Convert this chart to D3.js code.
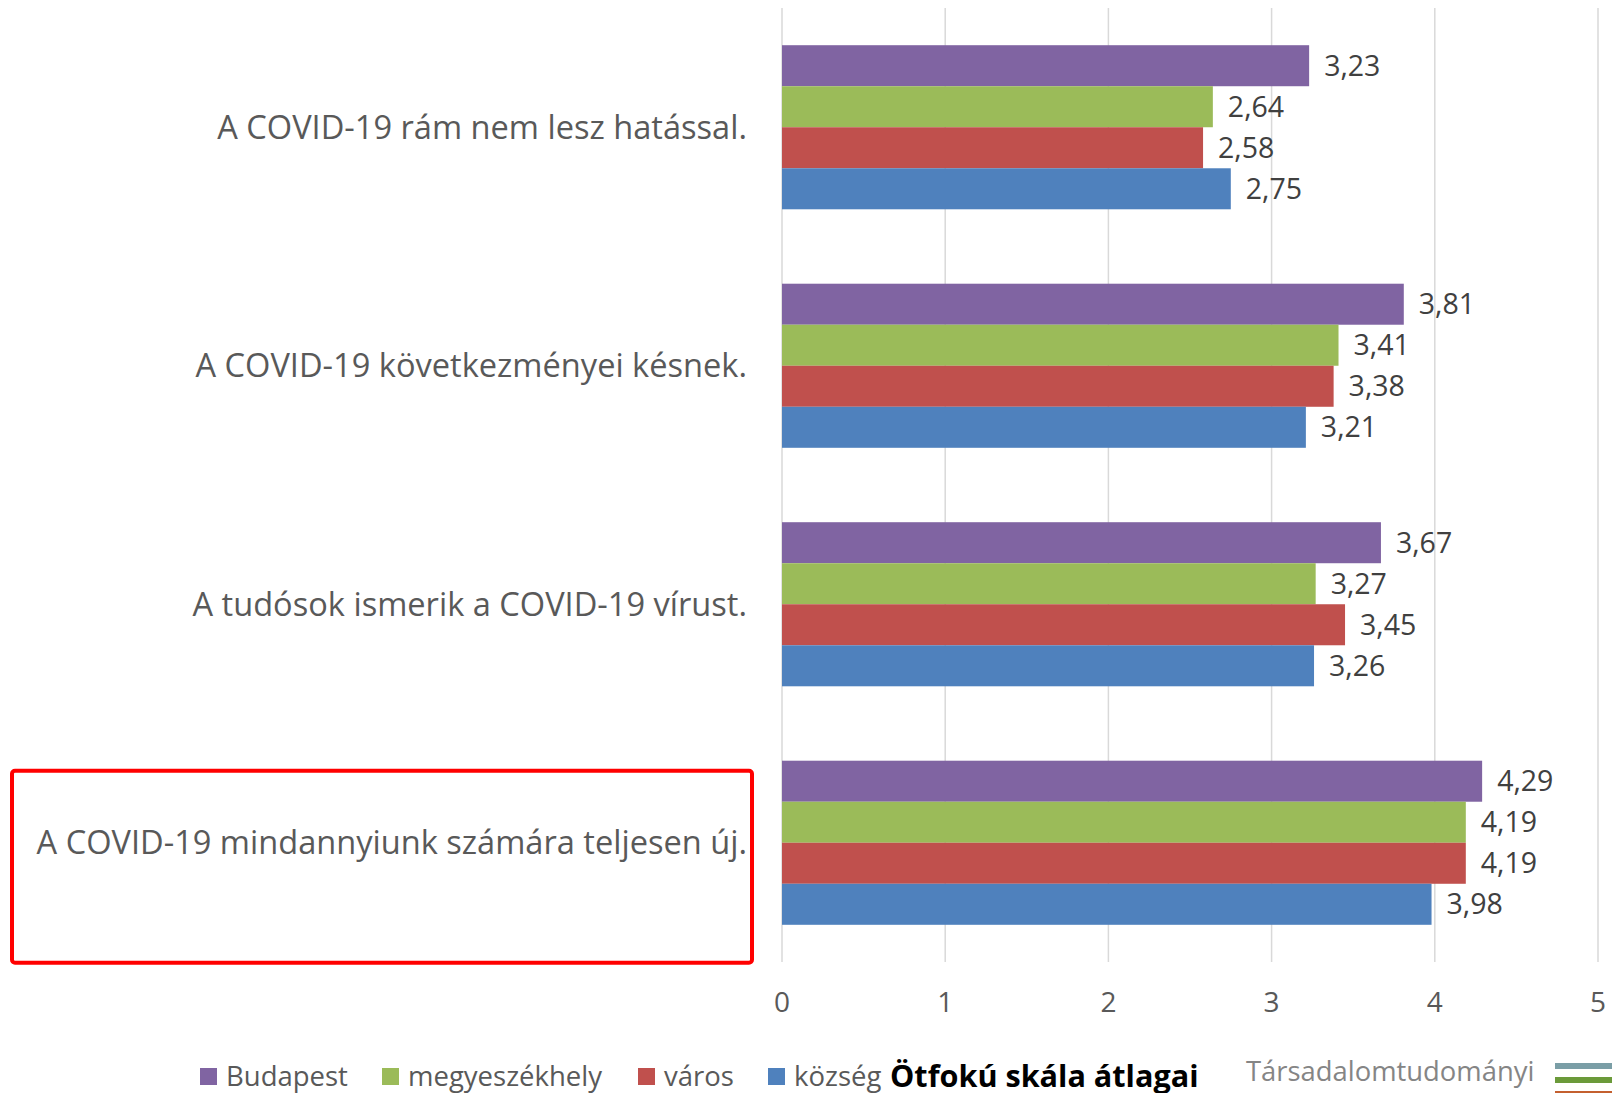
<!DOCTYPE html>
<html lang="hu">
<head>
  <meta charset="UTF-8">
  <title>Ötfokú skála átlagai</title>
  <style>
    body {
      margin: 0;
      padding: 0;
      background: #fff;
      font-family: "Open Sans", "Noto Sans", sans-serif;
    }
    svg text { font-family: "Open Sans", "Noto Sans", sans-serif; }
  </style>
</head>
<body>
  <svg id="chart" width="1612" height="1093"></svg>

  <script src="https://d3js.org/d3.v7.min.js"></script>
  <script>
    // adatok
    const categories = [
      "A COVID-19 rám nem lesz hatással.",
      "A COVID-19 következményei késnek.",
      "A tudósok ismerik a COVID-19 vírust.",
      "A COVID-19 mindannyiunk számára teljesen új."
    ];
    const seriesNames = ["Budapest", "megyeszékhely", "város", "község"];
    const budapest = [3.23, 3.81, 3.67, 4.29];
    const megyeszekhely = [2.64, 3.41, 3.27, 4.19];
    const varos = [2.58, 3.38, 3.45, 4.19];
    const kozseg = [2.75, 3.21, 3.26, 3.98];
    const xTicks = [0, 1, 2, 3, 4, 5];
    const colors = ["#8064A2", "#9BBB59", "#C0504D", "#4F81BD"];
    const chartTitle = "Ötfokú skála átlagai";
    const sourceText = "Társadalomtudományi";
    const highlighted = "A COVID-19 mindannyiunk számára teljesen új.";

    const seriesValues = [budapest, megyeszekhely, varos, kozseg];

    const svg = d3.select("#chart");

    const hu = d3.formatLocale({ decimal: ",", thousands: " ", grouping: [3], currency: ["", " Ft"] });
    const fmt = hu.format(".2f");

    // skálák
    const x = d3.scaleLinear().domain([0, 5]).range([782, 1598]);
    const y = d3.scaleBand()
      .domain(categories)
      .range([8, 962])
      .paddingInner(0.312)
      .paddingOuter(0.156);
    const ySub = d3.scaleBand()
      .domain(seriesNames)
      .range([0, y.bandwidth()]);

    // rácsvonalak
    svg.append("g")
      .selectAll("line")
      .data(xTicks)
      .join("line")
      .attr("x1", d => x(d))
      .attr("x2", d => x(d))
      .attr("y1", 8)
      .attr("y2", 962)
      .attr("stroke", "#d9d9d9")
      .attr("stroke-width", 1.5);

    // x tengely feliratai
    svg.append("g")
      .selectAll("text")
      .data(xTicks)
      .join("text")
      .attr("x", d => x(d))
      .attr("y", 1002)
      .attr("dy", "0.35em")
      .attr("text-anchor", "middle")
      .attr("font-size", 28)
      .attr("fill", "#595959")
      .text(d => d);

    // oszlopok
    const groups = svg.append("g")
      .selectAll("g")
      .data(categories)
      .join("g")
      .attr("transform", d => `translate(0,${y(d)})`);

    groups.selectAll("rect")
      .data((c, i) => seriesNames.map((s, j) => ({ s, v: seriesValues[j][i], j })))
      .join("rect")
      .attr("x", x(0))
      .attr("y", d => ySub(d.s))
      .attr("width", d => x(d.v) - x(0))
      .attr("height", ySub.bandwidth())
      .attr("fill", d => colors[d.j]);

    groups.selectAll("text.val")
      .data((c, i) => seriesNames.map((s, j) => ({ s, v: seriesValues[j][i], j })))
      .join("text")
      .attr("class", "val")
      .attr("x", d => x(d.v) + 15)
      .attr("y", d => ySub(d.s) + ySub.bandwidth() / 2)
      .attr("dy", "0.35em")
      .attr("font-size", 28.5)
      .attr("fill", "#404040")
      .text(d => fmt(d.v));

    // kategória feliratok
    svg.append("g")
      .selectAll("text")
      .data(categories)
      .join("text")
      .attr("x", 747)
      .attr("y", d => y(d) + y.bandwidth() / 2)
      .attr("dy", "0.35em")
      .attr("text-anchor", "end")
      .attr("font-size", 32.6)
      .attr("fill", "#595959")
      .text(d => d);

    // piros keret a kiemelt állítás körül
    svg.append("rect")
      .attr("x", 12)
      .attr("y", y(highlighted) + 10)
      .attr("width", 740)
      .attr("height", 192)
      .attr("rx", 3)
      .attr("fill", "none")
      .attr("stroke", "#ff0000")
      .attr("stroke-width", 4);

    // jelmagyarázat
    const legendX = [200, 382, 638, 768];
    const legend = svg.append("g")
      .selectAll("g")
      .data(seriesNames)
      .join("g")
      .attr("transform", (d, i) => `translate(${legendX[i]},1086)`);
    legend.append("rect")
      .attr("x", 0)
      .attr("y", -18)
      .attr("width", 17)
      .attr("height", 17)
      .attr("fill", (d, i) => colors[i]);
    legend.append("text")
      .attr("x", 26)
      .attr("font-size", 27.5)
      .attr("fill", "#595959")
      .text(d => d);

    svg.append("text")
      .attr("x", 890)
      .attr("y", 1087)
      .attr("font-size", 30.6)
      .attr("font-weight", "bold")
      .attr("fill", "#000")
      .text(chartTitle);

    // forrás logó
    svg.append("text")
      .attr("x", 1246)
      .attr("y", 1071)
      .attr("dy", "0.35em")
      .attr("font-size", 27.4)
      .attr("fill", "#858585")
      .text(sourceText);

    const logoColors = ["#7a9ea6", "#6b9a3a", "#c4602f"];
    svg.append("g")
      .selectAll("rect")
      .data(logoColors)
      .join("rect")
      .attr("x", 1555)
      .attr("y", (d, i) => 1063 + i * 14)
      .attr("width", 57)
      .attr("height", 6)
      .attr("fill", d => d);
  </script>
</body>
</html>
